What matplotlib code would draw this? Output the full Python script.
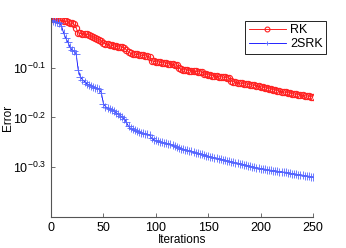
import numpy as np
import matplotlib
matplotlib.use("Agg")
import matplotlib.pyplot as plt
from matplotlib.ticker import FixedLocator, FuncFormatter, NullLocator

plt.rcParams['font.family'] = ['Liberation Sans', 'DejaVu Sans']
plt.rcParams['mathtext.fontset'] = 'custom'
plt.rcParams['mathtext.rm'] = 'Liberation Sans'
plt.rcParams['mathtext.it'] = 'Liberation Sans'

iterations = list(range(0, 251, 2))

# log10(error), every 2nd iteration
rk_log = [
    -0.002, -0.002, -0.003, -0.003, -0.004, -0.005, -0.006, -0.007, -0.008, -0.010,
    -0.011, -0.013, -0.020, -0.030, -0.031, -0.032, -0.032, -0.033, -0.034, -0.036,
    -0.038, -0.040, -0.042, -0.044, -0.046, -0.050, -0.052, -0.053, -0.054, -0.055,
    -0.056, -0.057, -0.058, -0.058, -0.059, -0.060, -0.064, -0.069, -0.071, -0.072,
    -0.073, -0.073, -0.074, -0.075, -0.075, -0.076, -0.077, -0.078, -0.086, -0.087,
    -0.088, -0.088, -0.089, -0.090, -0.090, -0.091, -0.092, -0.092, -0.093, -0.094,
    -0.095, -0.100, -0.103, -0.104, -0.104, -0.105, -0.106, -0.106, -0.107, -0.107,
    -0.108, -0.108, -0.109, -0.112, -0.113, -0.114, -0.115, -0.116, -0.116, -0.117,
    -0.118, -0.118, -0.119, -0.119, -0.120, -0.121, -0.126, -0.128, -0.129, -0.130,
    -0.131, -0.131, -0.132, -0.133, -0.133, -0.134, -0.135, -0.135, -0.136, -0.137,
    -0.138, -0.139, -0.140, -0.141, -0.142, -0.143, -0.144, -0.145, -0.146, -0.147,
    -0.148, -0.149, -0.149, -0.150, -0.151, -0.152, -0.153, -0.153, -0.154, -0.155,
    -0.155, -0.156, -0.157, -0.157, -0.158, -0.159,
]

srk2_log = [
    -0.004, -0.006, -0.008, -0.009, -0.011, -0.016, -0.030, -0.040, -0.048, -0.058,
    -0.064, -0.067, -0.072, -0.105, -0.118, -0.124, -0.128, -0.132, -0.134, -0.136,
    -0.138, -0.140, -0.141, -0.143, -0.150, -0.172, -0.178, -0.181, -0.183, -0.185,
    -0.187, -0.190, -0.193, -0.196, -0.199, -0.203, -0.210, -0.218, -0.222, -0.224,
    -0.226, -0.228, -0.229, -0.231, -0.232, -0.233, -0.234, -0.235, -0.242, -0.245,
    -0.246, -0.248, -0.249, -0.250, -0.251, -0.252, -0.253, -0.254, -0.256, -0.258,
    -0.260, -0.261, -0.263, -0.264, -0.265, -0.266, -0.267, -0.268, -0.270, -0.271,
    -0.272, -0.273, -0.274, -0.276, -0.277, -0.278, -0.279, -0.280, -0.281, -0.282,
    -0.283, -0.284, -0.285, -0.286, -0.287, -0.288, -0.289, -0.290, -0.291, -0.292,
    -0.293, -0.294, -0.295, -0.296, -0.297, -0.298, -0.299, -0.300, -0.301, -0.302,
    -0.303, -0.303, -0.304, -0.305, -0.306, -0.306, -0.307, -0.307, -0.308, -0.309,
    -0.309, -0.310, -0.310, -0.311, -0.312, -0.313, -0.313, -0.314, -0.315, -0.315,
    -0.316, -0.317, -0.318, -0.318, -0.319, -0.320,
]

series_names = ["RK", "2SRK"]
x_ticks = [0, 50, 100, 150, 200, 250]
y_tick_exps = [-0.1, -0.2, -0.3]

rk = 10 ** np.array(rk_log)
srk2 = 10 ** np.array(srk2_log)

fig = plt.figure(figsize=(3.46, 2.48), dpi=100)
ax = fig.add_axes([51 / 346, 1 - 217 / 248, (313 - 51) / 346, (217 - 18) / 248])

ax.plot(iterations, rk, color='#ff0000', lw=0.6, marker='o', ms=4.5,
        mfc='none', mec='#ff2020', mew=0.8, label=series_names[0])
ax.plot(iterations, srk2, color='#0000ff', lw=0.6, marker='+', ms=5.5,
        mew=0.6, mec='#5566ff', label=series_names[1])

ax.set_yscale('log')
ax.set_xlim(0, 250)
ax.set_ylim(10 ** -0.4, 1.0)
ax.xaxis.set_major_locator(FixedLocator(x_ticks))
ax.yaxis.set_major_locator(FixedLocator([10 ** e for e in y_tick_exps]))
ax.yaxis.set_minor_locator(NullLocator())
ax.yaxis.set_major_formatter(FuncFormatter(lambda v, p: r'$10^{%.1f}$' % np.log10(v)))

for s in ['top', 'right']:
    ax.spines[s].set_visible(False)
for s in ['left', 'bottom']:
    ax.spines[s].set_color('#555555')
    ax.spines[s].set_linewidth(0.8)
ax.tick_params(direction='in', length=3, width=0.6, color='#555555', labelsize=9)

ax.set_xlabel('Iterations', fontsize=8.5, labelpad=0)
ax.set_ylabel('Error', fontsize=8.5, va='center')
ax.yaxis.set_label_coords(-0.163, 0.5)

leg = ax.legend(loc='upper right', bbox_to_anchor=(1.06, 1.0), fontsize=9,
                fancybox=False, edgecolor='black', framealpha=1,
                handlelength=3.0, borderpad=0.3, labelspacing=0.15,
                handletextpad=0.3, borderaxespad=0.2)
leg.get_frame().set_linewidth(0.6)
for h in leg.legend_handles:
    h.set_markersize(3.5)

fig.savefig('out.png', dpi=100)
